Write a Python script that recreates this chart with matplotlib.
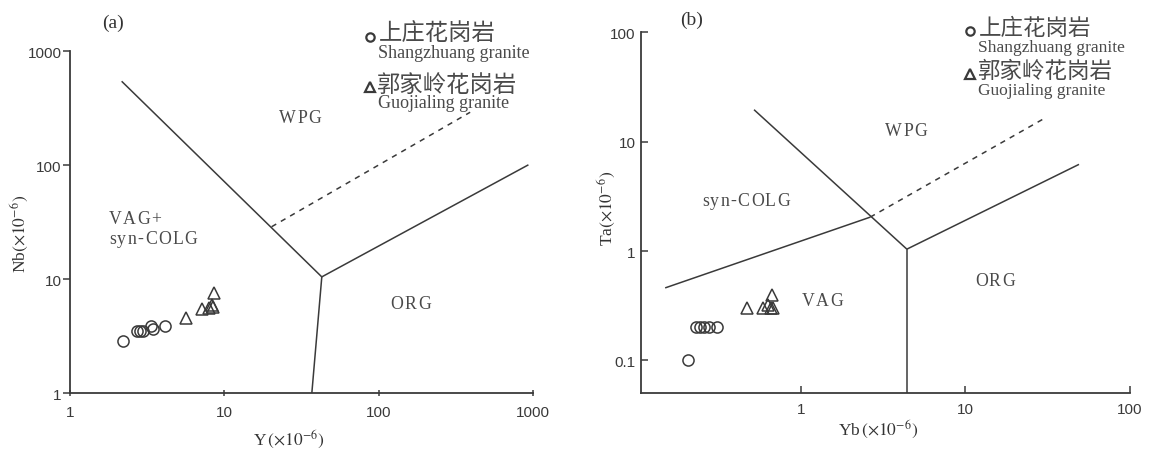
import matplotlib
matplotlib.use("Agg")
import matplotlib.pyplot as plt
from matplotlib.lines import Line2D
from matplotlib.font_manager import FontProperties
from matplotlib.textpath import TextToPath

plt.rcParams["mathtext.fontset"] = "stix"

W, H = 1151, 452
INK = "#3a3a3a"
TXT = "#4a4a4a"
SERIF = ["Liberation Serif", "DejaVu Serif"]
CJK = ["Noto Sans CJK SC", "DejaVu Sans"]
SANS = ["Liberation Sans", "DejaVu Sans"]

# ---- samples: Y-Nb diagram (a) ----
sz_Y = [2.2, 2.72, 2.82, 2.95, 3.33, 3.45, 4.15]
sz_Nb = [2.9, 3.5, 3.5, 3.5, 3.87, 3.66, 3.87]
gj_Y = [5.6, 7.2, 7.95, 8.25, 8.45, 8.5]
gj_Nb = [4.6, 5.5, 5.6, 6.0, 5.7, 7.6]

# ---- samples: Yb-Ta diagram (b) ----
sz_Yb = [0.206, 0.232, 0.245, 0.26, 0.278, 0.31]
sz_Ta = [0.1, 0.2, 0.2, 0.2, 0.2, 0.2]
gj_Yb = [0.47, 0.59, 0.63, 0.66, 0.68, 0.67]
gj_Ta = [0.3, 0.3, 0.32, 0.3, 0.3, 0.4]

# ---- discrimination boundaries (Pearce et al., 1984) ----
a_wpg_vag = ([2.16, 42.7], [546, 10.5])
a_org_vag = ([42.7, 36.8], [10.5, 1.0])
a_org_wpg = ([42.7, 930], [10.5, 101])
a_dash = ([20.2, 390], [28.9, 292])

b_wpg = ([0.52, 4.41], [19.6, 1.04])
b_syn_vag = ([0.15, 2.64], [0.46, 2.04])
b_dash = ([2.64, 31], [2.04, 16.7])
b_org_vag = ([4.41, 4.41], [1.04, 0.05])
b_org_wpg = ([4.41, 49], [1.04, 6.2])

fig = plt.figure(figsize=(W / 100, H / 100), dpi=100)
PT = 72 / fig.dpi  # points per pixel
_ttp = TextToPath()


def fx(px):
    return px / W


def fy(py):
    return 1 - py / H


def style_axes(ax, ytick_dir, xtick_dir):
    for s in ("top", "right"):
        ax.spines[s].set_visible(False)
    for s in ("left", "bottom"):
        ax.spines[s].set_color(INK)
        ax.spines[s].set_linewidth(1.3)
    ax.tick_params(axis="y", which="major", direction=ytick_dir, length=5,
                   width=1.1, color=INK, labelsize=11, labelcolor="#3a3a3a",
                   pad=1)
    ax.tick_params(axis="x", which="major", direction=xtick_dir, length=5,
                   width=1.1, color=INK, labelsize=11, labelcolor="#3a3a3a",
                   pad=6)
    ax.tick_params(which="minor", length=0)
    for lab in ax.get_xticklabels() + ax.get_yticklabels():
        lab.set_family(SANS)


def boundary(ax, seg, dashed=False):
    ax.plot(seg[0], seg[1], color=INK, lw=1.1,
            ls=(0, (3.5, 3.5)) if dashed else "-", solid_capstyle="butt")


def samples(ax, x1, y1, x2, y2):
    ax.plot(x1, y1, ls="none", marker="o", ms=8, mfc="none", mec=INK, mew=1.1)
    ax.plot(x2, y2, ls="none", marker="^", ms=9, mfc="none", mec=INK, mew=1.1)


def field_label(ax, x, y, s, ha="center", size=12.8, track_px=1.3):
    """Field name drawn letter by letter with extra tracking."""
    prop = FontProperties(family=SERIF, size=size)
    widths = [_ttp.get_text_width_height_descent(ch, prop, ismath=False)[0]
              for ch in s]
    track = track_px * PT
    total = sum(widths) + track * (len(s) - 1)
    off = -total / 2 if ha == "center" else 0.0
    for ch, w in zip(s, widths):
        ax.annotate(ch, (x, y), xycoords="data", xytext=(off, 0),
                    textcoords="offset points", ha="left", va="center",
                    family=SERIF, size=size, color=TXT)
        off += w + track


def legend_block(x0, y_rows, cn_size, en_size):
    yc1, ye1, yc2, ye2 = y_rows
    fig.add_artist(Line2D([fx(x0)], [fy(yc1 + 4)], ls="none", marker="o", ms=6,
                          mfc="none", mec=INK, mew=1.6))
    fig.text(fx(x0 + 9), fy(yc1), "上庄花岗岩", family=CJK, size=cn_size,
             color=TXT, va="center", ha="left")
    fig.text(fx(x0 + 8), fy(ye1), "Shangzhuang granite", family=SERIF,
             size=en_size, color=TXT, va="center", ha="left")
    fig.add_artist(Line2D([fx(x0)], [fy(yc2 + 3)], ls="none", marker="^", ms=7,
                          mfc="none", mec=INK, mew=1.6))
    fig.text(fx(x0 + 7), fy(yc2), "郭家岭花岗岩", family=CJK, size=cn_size,
             color=TXT, va="center", ha="left")
    fig.text(fx(x0 + 8), fy(ye2), "Guojialing granite", family=SERIF,
             size=en_size, color=TXT, va="center", ha="left")


# ================= (a) Y - Nb =================
axa = fig.add_axes([fx(70), fy(394.3), fx(533.3) - fx(70), fy(52.3) - fy(394.3)])
axa.set_xscale("log")
axa.set_yscale("log")
axa.set_xlim(1, 1000)
axa.set_ylim(1, 1000)
axa.set_xticks([1, 10, 100, 1000], ["1", "10", "100", "1000"])
axa.set_yticks([1, 10, 100, 1000], ["1", "10", "100", "1000"])
style_axes(axa, "out", "inout")

for seg in (a_wpg_vag, a_org_vag, a_org_wpg):
    boundary(axa, seg)
boundary(axa, a_dash, dashed=True)
samples(axa, sz_Y, sz_Nb, gj_Y, gj_Nb)

field_label(axa, 30.9, 261, "WPG")
field_label(axa, 1.79, 34.3, "VAG+", ha="left")
field_label(axa, 1.79, 22.8, "syn-COLG", ha="left")
field_label(axa, 161, 6.16, "ORG")

fig.text(fx(113), fy(23), "(a)", family=SERIF, size=14, color="#333333",
         ha="center", va="center")
fig.text(fx(20), fy(234), r"Nb$(\times 10^{-6})$", family=SERIF, size=12.5,
         color="#333333", rotation=90, ha="center", va="center")
fig.text(fx(289), fy(440), r"Y$\,(\times 10^{-6})$", family=SERIF, size=12.5,
         color="#333333", ha="center", va="center")
legend_block(370, (33.5, 53.6, 85.4, 103.8), 16.8, 13)

# ================= (b) Yb - Ta =================
axb = fig.add_axes([fx(641), fy(394.3), fx(1130) - fx(641), fy(33.3) - fy(394.3)])
axb.set_xscale("log")
axb.set_yscale("log")
axb.set_xlim(0.107, 100)
axb.set_ylim(0.05, 100)
axb.set_xticks([1, 10, 100], ["1", "10", "100"])
axb.set_yticks([0.1, 1, 10, 100], ["0.1", "1", "10", "100"])
style_axes(axb, "in", "in")
axb.tick_params(axis="y", pad=4)

for seg in (b_wpg, b_syn_vag, b_org_vag, b_org_wpg):
    boundary(axb, seg)
boundary(axb, b_dash, dashed=True)
samples(axb, sz_Yb, sz_Ta, gj_Yb, gj_Ta)

field_label(axb, 4.36, 12.6, "WPG")
field_label(axb, 0.464, 2.89, "syn-COLG")
field_label(axb, 1.35, 0.352, "VAG")
field_label(axb, 15.1, 0.537, "ORG")

fig.text(fx(692), fy(20), "(b)", family=SERIF, size=14, color="#333333",
         ha="center", va="center")
fig.text(fx(607), fy(208), r"Ta$(\times 10^{-6})$", family=SERIF, size=12.5,
         color="#333333", rotation=90, ha="center", va="center")
fig.text(fx(878), fy(430), r"Yb$\,(\times 10^{-6})$", family=SERIF, size=12.5,
         color="#333333", ha="center", va="center")
legend_block(970, (28.3, 47.7, 71.7, 90.7), 16.2, 12.5)

fig.savefig("out.png", dpi=100)
